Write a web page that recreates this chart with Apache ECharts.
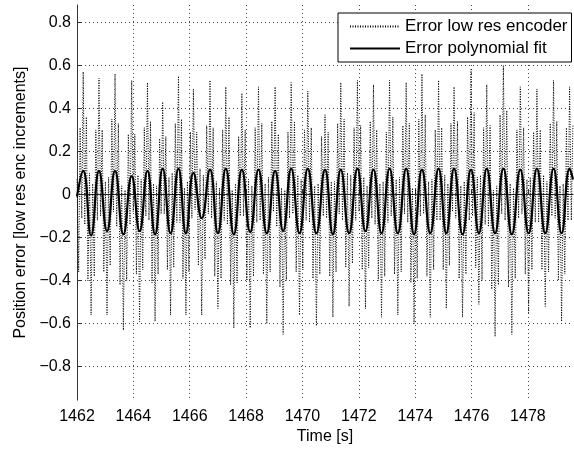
<!DOCTYPE html>
<html>
<head>
<meta charset="utf-8">
<script src="https://cdn.jsdelivr.net/npm/echarts@6/dist/echarts.min.js"></script>
<style>
html,body{margin:0;padding:0;background:#fff;}
#c{width:574px;height:450px;}
</style>
</head>
<body>
<div id="c"></div>
<script>
// ---- data ----
const xTicks = [1462, 1464, 1466, 1468, 1470, 1472, 1474, 1476, 1478];
const yTicks = [-0.8, -0.6, -0.4, -0.2, 0, 0.2, 0.4, 0.6, 0.8];

// times of the polynomial-fit maxima [s]
const peakTimes = [1462.22, 1462.78, 1463.35, 1463.94, 1464.50, 1465.04, 1465.60, 1466.13,
  1466.72, 1467.28, 1467.85, 1468.44, 1469.03, 1469.60, 1470.19, 1470.80, 1471.36, 1471.95,
  1472.52, 1473.09, 1473.68, 1474.24, 1474.83, 1475.38, 1475.98, 1476.54, 1477.13, 1477.73,
  1478.32, 1478.91, 1479.48];
// fit values at maxima / minima
const fitPeaks = [0.11, 0.11, 0.11, 0.085, 0.11, 0.12, 0.12, 0.10, 0.115, 0.12, 0.115, 0.115,
  0.11, 0.12, 0.12, 0.115, 0.115, 0.12, 0.115, 0.12, 0.12, 0.115, 0.12, 0.12, 0.115, 0.12,
  0.12, 0.115, 0.12, 0.12, 0.12];
const fitTroughs = [-0.19, -0.17, -0.185, -0.17, -0.185, -0.18, -0.18, -0.11, -0.18, -0.185,
  -0.175, -0.18, -0.17, -0.18, -0.18, -0.185, -0.18, -0.17, -0.18, -0.18, -0.185, -0.18,
  -0.18, -0.185, -0.18, -0.18, -0.185, -0.18, -0.18, -0.18];
const fitStart = [1462.0, -0.01];
const fitEnd = [1479.6, 0.07];

// low res encoder error: samples before first maximum
const encPrefixTimes = [1462.0, 1462.06, 1462.11, 1462.17];
const encPrefix = [0.07, -0.36, 0.31, -0.11];
// 10 samples per fit cycle, starting at each maximum
const encCycles = [
  [0.57, -0.14, 0.36, -0.40, 0.10, -0.56, 0.05, -0.38, 0.30, -0.12],
  [0.54, -0.10, 0.30, -0.36, 0.06, -0.56, 0.08, -0.33, 0.35, -0.08],
  [0.56, -0.15, 0.33, -0.42, 0.04, -0.63, 0.02, -0.40, 0.28, -0.14],
  [0.53, -0.08, 0.28, -0.37, 0.09, -0.59, 0.07, -0.35, 0.31, -0.10],
  [0.52, -0.12, 0.34, -0.41, 0.05, -0.59, 0.04, -0.37, 0.26, -0.09],
  [0.43, -0.09, 0.27, -0.35, 0.08, -0.56, 0.10, -0.34, 0.33, -0.13],
  [0.55, -0.13, 0.35, -0.39, 0.03, -0.56, 0.06, -0.36, 0.29, -0.11],
  [0.49, -0.07, 0.29, -0.33, 0.12, -0.56, 0.09, -0.30, 0.32, -0.09],
  [0.53, -0.11, 0.31, -0.38, 0.06, -0.53, 0.03, -0.39, 0.30, -0.12],
  [0.50, -0.14, 0.36, -0.42, 0.02, -0.62, 0.05, -0.41, 0.27, -0.10],
  [0.47, -0.10, 0.30, -0.40, 0.07, -0.62, 0.04, -0.38, 0.31, -0.13],
  [0.50, -0.12, 0.33, -0.37, 0.05, -0.60, 0.08, -0.36, 0.34, -0.08],
  [0.50, -0.15, 0.28, -0.43, 0.03, -0.65, 0.02, -0.40, 0.29, -0.11],
  [0.52, -0.09, 0.34, -0.36, 0.09, -0.56, 0.07, -0.35, 0.30, -0.12],
  [0.48, -0.13, 0.31, -0.39, 0.04, -0.61, 0.05, -0.37, 0.27, -0.10],
  [0.37, -0.11, 0.29, -0.38, 0.06, -0.57, 0.06, -0.36, 0.33, -0.09],
  [0.52, -0.12, 0.35, -0.34, 0.10, -0.52, 0.09, -0.32, 0.31, -0.12],
  [0.53, -0.08, 0.32, -0.35, 0.08, -0.53, 0.04, -0.34, 0.34, -0.11],
  [0.51, -0.14, 0.30, -0.40, 0.05, -0.57, 0.06, -0.38, 0.29, -0.13],
  [0.53, -0.10, 0.36, -0.37, 0.07, -0.56, 0.08, -0.36, 0.32, -0.09],
  [0.52, -0.13, 0.33, -0.41, 0.03, -0.60, 0.03, -0.39, 0.35, -0.10],
  [0.56, -0.09, 0.37, -0.38, 0.06, -0.57, 0.07, -0.35, 0.30, -0.12],
  [0.53, -0.12, 0.31, -0.35, 0.09, -0.53, 0.05, -0.33, 0.33, -0.08],
  [0.50, -0.11, 0.34, -0.39, 0.04, -0.57, 0.06, -0.37, 0.36, -0.12],
  [0.58, -0.10, 0.38, -0.34, 0.08, -0.51, 0.09, -0.40, 0.31, -0.14],
  [0.51, -0.15, 0.32, -0.44, 0.02, -0.66, 0.04, -0.42, 0.37, -0.09],
  [0.60, -0.12, 0.39, -0.43, 0.05, -0.65, 0.03, -0.39, 0.30, -0.11],
  [0.50, -0.09, 0.31, -0.37, 0.07, -0.55, 0.08, -0.35, 0.29, -0.13],
  [0.49, -0.13, 0.30, -0.35, 0.09, -0.52, 0.06, -0.36, 0.33, -0.10],
  [0.53, -0.11, 0.34, -0.40, 0.04, -0.59, 0.05, -0.37, 0.31, -0.12]
];
// samples after the last maximum
const encSuffixTimes = [1479.48, 1479.54, 1479.595];
const encSuffix = [0.50, -0.12, 0.32];

const seriesNames = ['Error low res encoder', 'Error polynomial fit'];
const xName = 'Time [s]';
const yName = 'Position error [low res enc increments]';

// ---- build series data ----
const encData = [];
encPrefixTimes.forEach((t, i) => encData.push([t, encPrefix[i]]));
encCycles.forEach((row, k) => {
  const t0 = peakTimes[k], t1 = peakTimes[k + 1];
  row.forEach((v, j) => encData.push([t0 + (t1 - t0) * j / row.length, v]));
});
encSuffixTimes.forEach((t, i) => encData.push([t, encSuffix[i]]));

const fitData = [fitStart];
peakTimes.forEach((t, k) => {
  fitData.push([t, fitPeaks[k]]);
  if (k < fitTroughs.length) fitData.push([(t + peakTimes[k + 1]) / 2, fitTroughs[k]]);
});
fitData.push(fitEnd);

const FONT = '"Liberation Sans", Arial, Helvetica, sans-serif';
const chart = echarts.init(document.getElementById('c'), null, {renderer: 'canvas'});
chart.setOption({
  animation: false,
  backgroundColor: '#fff',
  textStyle: {fontFamily: FONT, color: '#000'},
  grid: {left: 77, right: 1, top: 5, bottom: 49, containLabel: false},
  legend: {
    orient: 'vertical',
    left: 338, top: 13,
    padding: [5, 4, 5, 11],
    itemGap: 5,
    itemWidth: 50, itemHeight: 14,
    backgroundColor: '#fff',
    borderColor: '#000', borderWidth: 1,
    itemStyle: {opacity: 0},
    textStyle: {fontFamily: FONT, fontSize: 17, color: '#000'},
    data: seriesNames
  },
  xAxis: {
    type: 'value', min: 1462, max: 1479.6,
    name: xName, nameLocation: 'middle', nameGap: 26,
    nameTextStyle: {fontFamily: FONT, fontSize: 16, color: '#000'},
    axisLine: {show: true, lineStyle: {color: '#333', width: 1}},
    axisTick: {show: true, inside: true, length: 5, customValues: xTicks, lineStyle: {color: '#333'}},
    axisLabel: {customValues: xTicks, margin: 8, fontFamily: FONT, fontSize: 16, color: '#000',
      formatter: v => String(v)},
    splitLine: {show: true, lineStyle: {color: '#444', type: [1, 3], width: 1}}
  },
  yAxis: {
    type: 'value', min: -0.955, max: 0.88,
    name: yName, nameLocation: 'middle', nameGap: 47,
    nameTextStyle: {fontFamily: FONT, fontSize: 16, color: '#000'},
    axisLine: {show: true, lineStyle: {color: '#333', width: 1}},
    axisTick: {show: true, inside: true, length: 5, customValues: yTicks, lineStyle: {color: '#333'}},
    axisLabel: {
      customValues: yTicks, margin: 6, fontFamily: FONT, fontSize: 16, color: '#000',
      formatter: v => (Math.round(v * 10) / 10).toString().replace('-', '\u2212')
    },
    splitLine: {show: true, lineStyle: {color: '#444', type: [1, 3], width: 1}}
  },
  series: [
    {
      name: seriesNames[0], type: 'line', data: encData,
      symbol: 'none', showSymbol: false,
      lineStyle: {color: '#000', width: 1, type: [1, 1.5]},
      itemStyle: {color: '#000'}
    },
    {
      name: seriesNames[1], type: 'line', data: fitData,
      symbol: 'none', showSymbol: false, smooth: 0.5,
      lineStyle: {color: '#000', width: 2.2},
      itemStyle: {color: '#000'}
    }
  ]
});
</script>
</body>
</html>
